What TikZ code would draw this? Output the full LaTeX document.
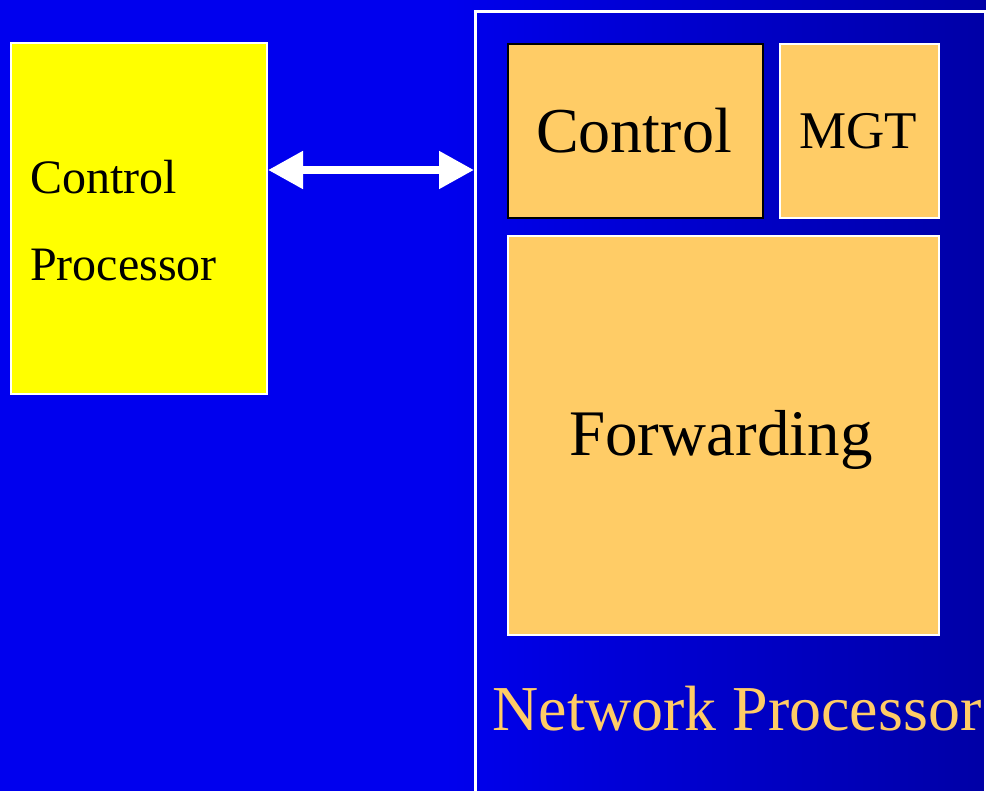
\documentclass[tikz,border=0pt]{standalone}
\usepackage{fontspec}
\setmainfont{Liberation Serif}
\usetikzlibrary{arrows.meta}
\definecolor{bgblue}{HTML}{0000EE}
\definecolor{bgdark}{HTML}{0000A6}
\definecolor{boxorange}{HTML}{FFCC66}
\definecolor{cpyellow}{HTML}{FFFF00}
\tikzset{
  box/.style={draw=white, line width=2pt, fill=boxorange, inner sep=0pt, anchor=north west},
  lbl/.style={anchor=base, text=black, inner sep=0pt},
}
\begin{document}
\begin{tikzpicture}[x=1pt,y=-1pt]
\useasboundingbox (0,0) rectangle (986,791);
\fill[bgblue] (0,0) rectangle (986,791);
\shade[left color=bgblue, right color=bgdark] (445,0) rectangle (986,791);
% Network processor frame
\node[draw=white, line width=3pt, inner sep=0pt, anchor=north west,
      minimum width=510pt, minimum height=800pt] (np) at (474,10.5) {};
% Control processor
\node[draw=white, line width=2pt, fill=cpyellow, inner sep=0pt, anchor=north west,
      minimum width=256pt, minimum height=351pt] (cp) at (10,42) {};
\node[anchor=base west, inner sep=0pt] (cpt1) at (30,194) {\fontsize{48}{48}\selectfont Control};
\node[anchor=base west, inner sep=0pt] (cpt2) at (30,281) {\fontsize{48}{48}\selectfont Processor};
% inner boxes
\node[box, draw=black, minimum width=255pt, minimum height=174pt] (ctl) at (507,43) {};
\node[lbl] (ctlt) at (634,153) {\fontsize{64}{64}\selectfont Control};
\node[box, minimum width=159pt, minimum height=174pt] (mgt) at (779,43) {};
\node[lbl] (mgtt) at (858,149) {\fontsize{53}{53}\selectfont MGT};
\node[box, minimum width=431pt, minimum height=399pt] (fwd) at (507,235) {};
\node[lbl] (fwdt) at (721,456) {\fontsize{65}{65}\selectfont Forwarding};
\node[anchor=base, inner sep=0pt, text=boxorange] (npt) at (737,730) {\fontsize{64}{64}\selectfont Network Processor};
% double arrow
\draw[white, line width=8pt,
      {Triangle[length=35pt,width=36pt]}-{Triangle[length=35pt,width=36pt]}]
  (cp.east |- 0,170) -- (np.west |- 0,170);
\end{tikzpicture}
\end{document}
